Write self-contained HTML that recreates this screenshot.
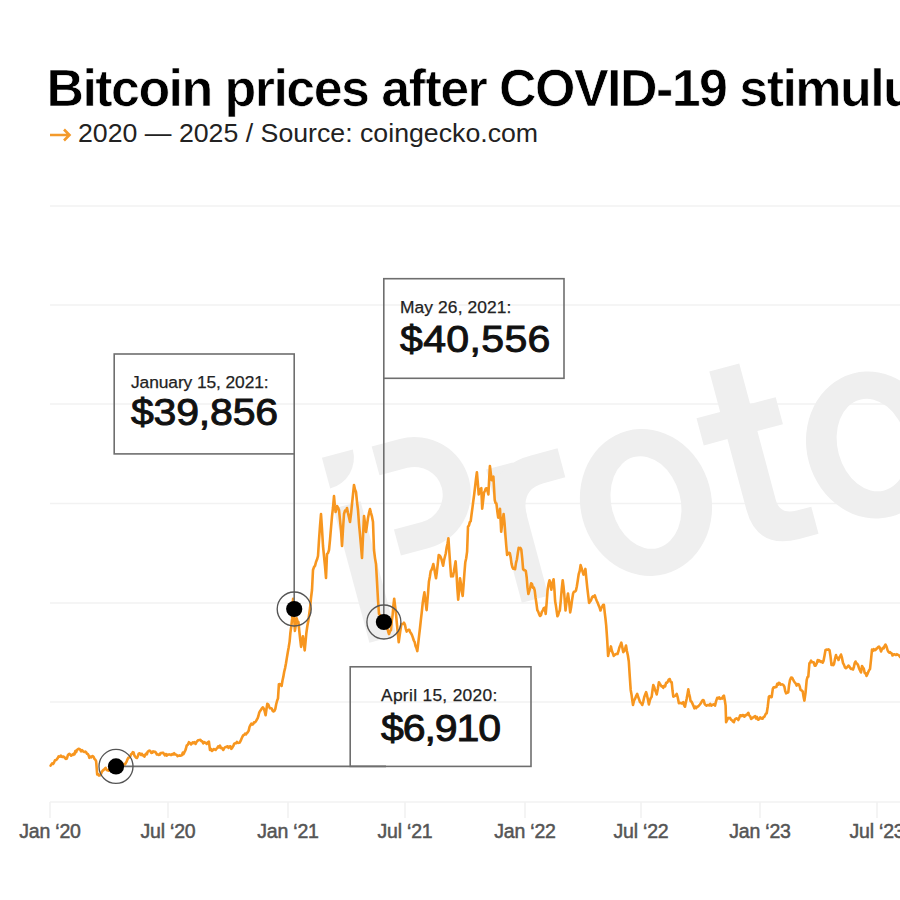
<!DOCTYPE html>
<html><head><meta charset="utf-8">
<style>
html,body{margin:0;padding:0;background:#fff;}
body{width:900px;height:900px;position:relative;overflow:hidden;font-family:"Liberation Sans",sans-serif;}
.t{position:absolute;white-space:nowrap;line-height:1;}
#title{left:46.4px;top:61.8px;font-size:52px;font-weight:bold;color:#000;-webkit-text-stroke:0.7px #fff;letter-spacing:-1.56px;}
#sub{transform-origin:0 0;transform:scaleX(1.047);left:77.5px;top:121px;font-size:25.5px;color:#222;letter-spacing:0px;}
#sub .ar{color:#f39a2b;}
.box{position:absolute;border:1.5px solid #666;box-sizing:border-box;}
.bd{position:absolute;-webkit-text-stroke:0.25px #222;font-size:17.4px;line-height:1;color:#222;white-space:nowrap;letter-spacing:-0.1px;}
.bv{position:absolute;-webkit-text-stroke:0.95px #111;transform-origin:0 0;transform:scaleX(1.095);font-size:37.5px;line-height:1;color:#111;white-space:nowrap;letter-spacing:0px;}
.ax{position:absolute;top:822px;font-size:19.5px;line-height:1;color:#555;-webkit-text-stroke:0.5px #555;white-space:nowrap;transform:translateX(-50%);letter-spacing:-0.2px;}
</style></head><body>
<svg width="900" height="900" style="position:absolute;left:0;top:0">
  <g stroke="#f2f2f2" stroke-width="1.5">
    <line x1="50" y1="206" x2="900" y2="206"/>
    <line x1="50" y1="305" x2="900" y2="305"/>
    <line x1="50" y1="404" x2="900" y2="404"/>
    <line x1="50" y1="503.5" x2="900" y2="503.5"/>
    <line x1="50" y1="603" x2="900" y2="603"/>
    <line x1="50" y1="702" x2="900" y2="702"/>
    <line x1="50" y1="802" x2="900" y2="802"/>
  </g>
  <g stroke="#f0f0f0" stroke-width="1.5">
    <line x1="50" y1="802" x2="50" y2="818"/>
    <line x1="168" y1="802" x2="168" y2="818"/>
    <line x1="288" y1="802" x2="288" y2="818"/>
    <line x1="405" y1="802" x2="405" y2="818"/>
    <line x1="525" y1="802" x2="525" y2="818"/>
    <line x1="641" y1="802" x2="641" y2="818"/>
    <line x1="760" y1="802" x2="760" y2="818"/>
    <line x1="877" y1="802" x2="877" y2="818"/>
  </g>
  <g transform="translate(655,503) rotate(-15)" fill="#efefef">
    <path d="M-310,-130 L-278,-130 A32,32 0 0 1 -310,-98 Z"/>
    <rect x="-312" y="-78" width="28" height="139"/>
    <path d="M-259,-128 L-230,-128 A56.5,56.5 0 0 1 -230,-15 L-259,-15 L-259,-42 L-230,-42 A28,28 0 0 0 -230,-98 L-259,-98 Z"/>
    <rect x="-154.5" y="-76" width="27.5" height="138"/>
    <path d="M-154.5,-45 Q-147.5,-78 -107.5,-78 L-80,-78 L-80,-48 L-102.5,-48 Q-127,-48 -127,-20 Z"/>
    <path fill-rule="evenodd" d="M56.9,-2.8 A65.5,74 0 1 0 -74.1,-2.8 A65.5,74 0 1 0 56.9,-2.8 Z M25.9,-2.8 A34.5,47 0 1 0 -43.1,-2.8 A34.5,47 0 1 0 25.9,-2.8 Z"/>
    <path d="M86.5,-113 L117.5,-113 L117.5,-71 L144,-71 L144,-43 L117.5,-43 L117.5,28 Q117.5,44 135,44 L150,44 L150,72 L130,72 Q86.5,72 86.5,30 L86.5,-43 L62,-43 L62,-71 L86.5,-71 Z"/>
    <path fill-rule="evenodd" d="M290.2,0.2 A65.5,74 0 1 0 159.2,0.2 A65.5,74 0 1 0 290.2,0.2 Z M259.2,0.2 A34.5,47 0 1 0 190.2,0.2 A34.5,47 0 1 0 259.2,0.2 Z"/>
  </g>
  <g stroke="#f39a2b" stroke-width="2.6" fill="none" stroke-linecap="butt" stroke-linejoin="miter"><path d="M50,135 L69,135 M64,129.5 L69.5,135 L64,140.5"/></g>
  <path d="M50.6,765.6 L51.4,764.4 L52.2,763.3 L53.1,763.9 L53.9,762.8 L55.0,760.3 L56.1,760.0 L56.9,759.3 L57.8,758.0 L58.6,756.4 L59.4,756.7 L60.2,756.7 L60.9,755.5 L61.7,756.7 L62.6,757.0 L63.5,756.5 L64.3,757.0 L65.2,758.3 L66.1,758.9 L66.9,758.5 L67.8,755.4 L68.6,754.4 L69.4,753.9 L70.2,754.5 L71.1,755.6 L72.0,754.9 L72.8,755.0 L73.6,753.8 L74.5,754.4 L75.3,751.0 L76.1,752.2 L77.0,749.8 L77.8,749.4 L78.6,748.8 L79.5,749.0 L80.3,749.8 L81.1,751.4 L82.0,750.0 L82.8,751.1 L83.6,751.6 L84.4,752.0 L85.3,751.6 L86.1,752.2 L86.9,753.7 L87.8,753.9 L88.6,755.3 L89.4,757.8 L90.2,756.6 L91.1,757.4 L92.0,756.3 L92.8,756.1 L93.6,756.9 L94.4,758.8 L95.3,759.7 L96.1,761.1 L97.2,774.4 L98.0,774.0 L98.9,775.5 L99.8,775.4 L100.6,775.0 L101.7,772.1 L102.8,770.6 L103.7,769.9 L104.7,768.8 L105.6,767.8 L106.5,769.7 L107.4,770.3 L108.3,770.6 L109.2,769.4 L110.2,770.5 L111.1,767.7 L112.0,768.0 L113.0,767.3 L114.0,767.7 L115.0,765.6 L116.0,766.0 L117.0,765.7 L118.0,764.3 L119.0,765.7 L120.0,765.0 L120.8,765.6 L121.7,765.0 L122.5,765.7 L123.3,764.1 L124.2,765.0 L125.0,764.4 L125.8,763.0 L126.7,761.3 L127.5,759.3 L128.3,757.8 L129.2,757.6 L130.1,756.7 L131.0,754.4 L131.9,753.7 L132.8,752.2 L133.6,752.5 L134.4,755.5 L135.3,756.8 L136.1,757.8 L136.9,758.0 L137.8,756.4 L138.6,753.9 L139.4,753.3 L140.2,753.6 L141.1,754.9 L141.9,753.8 L142.7,755.5 L143.6,755.3 L144.4,756.7 L145.2,754.7 L146.1,753.5 L146.9,754.3 L147.7,751.7 L148.6,751.0 L149.4,750.6 L150.3,751.0 L151.3,753.0 L152.2,752.8 L153.1,751.3 L154.1,751.9 L155.0,751.7 L155.9,752.7 L156.9,754.5 L157.8,754.4 L158.7,755.0 L159.6,754.8 L160.6,753.0 L161.5,753.1 L162.4,752.7 L163.3,752.8 L164.2,754.5 L165.0,755.4 L165.8,754.0 L166.7,755.6 L167.6,754.6 L168.6,754.6 L169.5,754.4 L170.5,754.9 L171.4,755.0 L172.4,754.0 L173.3,754.4 L174.2,753.2 L175.0,754.5 L175.9,754.5 L176.8,755.1 L177.6,756.2 L178.5,755.7 L179.4,755.4 L180.2,755.8 L181.1,755.6 L181.9,755.2 L182.8,752.7 L183.6,754.1 L184.4,752.2 L185.2,750.7 L185.9,748.8 L186.7,745.6 L187.8,744.7 L188.9,742.2 L190.0,743.0 L191.1,744.4 L191.9,743.6 L192.8,742.3 L193.6,743.1 L194.4,742.2 L195.6,743.9 L196.6,741.8 L197.5,740.8 L198.4,740.2 L199.4,740.0 L200.4,739.9 L201.4,741.2 L202.3,741.3 L203.3,743.3 L204.2,742.2 L205.0,742.7 L205.8,742.7 L206.7,743.9 L207.8,742.4 L208.9,741.7 L210.0,750.0 L210.9,748.8 L211.9,751.0 L212.8,750.3 L213.7,749.1 L214.7,749.4 L215.6,750.0 L216.5,748.7 L217.4,747.9 L218.2,746.4 L219.1,747.4 L220.0,745.6 L220.8,748.0 L221.7,747.7 L222.5,748.9 L223.3,750.0 L224.2,748.1 L225.0,747.3 L225.8,747.1 L226.7,746.7 L227.6,746.3 L228.5,747.9 L229.4,746.4 L230.4,746.2 L231.3,748.8 L232.2,747.8 L233.1,746.4 L234.1,743.9 L235.0,743.3 L236.0,743.3 L236.9,741.8 L237.9,743.0 L238.9,742.8 L239.8,742.5 L240.7,740.7 L241.5,738.7 L242.4,736.7 L243.3,735.3 L244.2,734.9 L245.1,733.6 L246.0,734.4 L246.9,733.0 L247.8,732.2 L248.7,730.6 L249.5,727.0 L250.4,725.1 L251.3,723.7 L252.2,724.6 L253.1,724.3 L254.0,722.4 L254.9,722.5 L255.8,721.5 L256.7,719.8 L257.6,718.4 L258.4,716.0 L259.3,712.4 L260.2,710.9 L261.1,709.7 L262.0,708.1 L262.9,707.3 L263.8,708.7 L264.7,711.4 L265.6,715.3 L266.5,709.0 L267.3,703.8 L268.2,704.3 L269.1,706.5 L270.0,708.3 L270.9,708.2 L271.8,708.7 L272.6,710.7 L273.5,711.5 L274.4,710.9 L275.3,709.0 L276.2,704.3 L277.1,700.8 L278.0,698.4 L278.9,684.2 L279.8,684.1 L280.7,684.6 L281.6,686.0 L282.5,680.5 L283.3,676.9 L284.2,671.8 L285.1,668.1 L286.0,663.2 L286.9,657.6 L287.8,652.2 L288.7,647.3 L289.6,641.6 L290.4,632.7 L291.3,626.3 L292.2,618.4 L293.1,598.9 L294.0,613.8 L294.9,630.9 L295.8,625.1 L296.7,618.4 L297.5,621.3 L298.4,622.0 L299.3,631.0 L300.2,639.3 L301.1,646.9 L302.0,641.5 L302.9,636.2 L303.8,642.5 L304.7,650.4 L305.5,642.3 L306.4,632.7 L307.3,626.3 L308.2,621.6 L309.1,614.9 L310.1,607.8 L311.0,598.0 L312.0,590.0 L313.0,570.0 L314.0,567.1 L315.0,565.8 L316.0,562.0 L317.0,559.6 L318.0,556.0 L319.0,540.0 L320.0,526.1 L321.0,514.0 L322.0,529.0 L323.0,546.0 L324.0,556.0 L325.0,566.1 L326.0,578.0 L327.0,554.0 L328.0,553.1 L329.0,550.0 L330.0,539.8 L331.0,528.0 L332.0,516.4 L333.0,507.5 L334.0,496.0 L334.8,505.2 L335.6,512.0 L336.3,509.4 L337.0,506.0 L338.0,507.6 L339.0,510.0 L340.0,520.1 L341.0,530.0 L342.0,546.0 L343.0,529.0 L344.0,514.0 L345.0,510.7 L346.0,511.2 L347.0,508.0 L348.0,513.1 L349.0,517.4 L350.0,522.0 L351.0,514.1 L352.0,504.0 L353.0,494.3 L354.0,485.0 L355.0,489.5 L356.0,492.0 L357.0,501.8 L358.0,510.0 L359.0,524.0 L360.0,534.6 L361.0,546.0 L362.0,558.0 L363.0,536.5 L364.0,516.0 L365.0,523.3 L366.0,532.0 L367.0,525.2 L368.0,518.0 L369.0,512.9 L370.0,509.0 L371.0,513.1 L372.0,516.7 L373.0,522.0 L374.0,550.0 L375.0,558.1 L376.0,564.0 L377.0,581.6 L378.0,600.0 L379.0,614.0 L379.8,614.9 L380.7,616.2 L381.5,618.1 L382.3,617.8 L383.2,620.1 L384.0,620.0 L384.8,622.3 L385.7,624.7 L386.5,627.1 L387.3,628.1 L388.2,631.5 L389.0,634.0 L390.0,631.2 L391.0,630.0 L391.8,620.9 L392.6,615.1 L393.4,605.7 L394.2,598.7 L395.1,606.2 L396.0,613.8 L396.9,623.9 L397.8,632.9 L398.7,642.2 L399.6,635.8 L400.4,630.4 L401.3,624.4 L402.2,624.0 L403.1,624.0 L404.0,622.7 L404.9,624.6 L405.8,628.8 L406.7,631.6 L407.6,630.3 L408.4,629.8 L409.3,629.8 L410.2,632.3 L411.1,633.4 L412.0,635.1 L412.9,637.6 L413.8,640.5 L414.7,642.2 L415.6,646.2 L416.4,648.0 L417.3,651.1 L418.2,643.7 L419.1,635.7 L420.0,628.0 L420.9,619.7 L421.8,611.9 L422.7,603.1 L423.5,597.6 L424.4,592.4 L425.5,601.4 L426.6,610.2 L427.4,600.7 L428.1,592.4 L428.9,581.8 L429.8,577.0 L430.7,571.1 L431.6,569.7 L432.4,567.5 L433.3,564.0 L434.2,568.1 L435.1,573.6 L436.0,578.2 L436.9,571.7 L437.8,563.7 L438.7,555.1 L439.6,555.4 L440.4,556.5 L441.3,558.7 L442.2,562.1 L443.1,565.8 L444.0,560.5 L444.9,556.8 L445.8,553.3 L446.7,547.2 L447.5,543.7 L448.4,538.2 L449.3,551.7 L450.2,564.7 L451.1,576.4 L452.0,575.5 L452.9,576.4 L453.8,571.9 L454.7,566.8 L455.6,561.3 L456.5,573.1 L457.3,587.8 L458.2,599.6 L459.1,590.1 L460.0,578.2 L460.9,583.4 L461.8,591.2 L462.7,596.0 L463.6,584.5 L464.4,573.4 L465.3,562.2 L466.2,558.2 L467.1,551.6 L468.0,526.7 L468.9,525.7 L469.8,522.1 L470.7,521.1 L471.6,514.0 L472.5,507.3 L473.3,501.0 L474.2,494.4 L475.1,486.6 L476.0,478.8 L476.9,472.2 L477.8,482.8 L478.7,494.4 L479.6,492.9 L480.4,489.0 L481.3,488.2 L482.2,508.7 L483.1,500.8 L484.0,492.7 L484.9,491.0 L485.8,488.4 L486.7,488.2 L487.5,490.9 L488.4,494.4 L489.1,480.5 L489.9,466.0 L490.8,473.1 L491.6,480.2 L492.5,477.3 L493.4,476.7 L494.7,499.8 L495.5,502.8 L496.4,503.3 L497.3,511.2 L498.2,517.6 L499.1,514.4 L500.0,508.7 L501.2,531.8 L502.0,524.8 L502.8,519.3 L503.6,514.0 L504.5,522.6 L505.3,533.6 L506.2,545.0 L507.1,554.9 L508.0,553.7 L508.9,552.7 L509.8,553.1 L510.7,557.6 L511.5,563.6 L512.4,567.3 L513.3,568.7 L514.2,567.9 L515.1,569.1 L516.0,562.9 L516.9,559.5 L517.8,553.3 L518.7,547.8 L519.6,548.9 L520.4,547.9 L521.3,549.6 L522.2,558.2 L523.1,569.1 L524.0,570.2 L524.9,570.1 L525.8,570.9 L526.7,577.5 L527.5,587.4 L528.4,594.0 L529.3,590.8 L530.2,587.7 L531.1,583.3 L532.0,584.0 L532.9,587.8 L533.8,587.5 L534.7,590.4 L535.6,597.9 L536.4,603.3 L537.3,610.0 L538.2,611.6 L539.1,614.1 L540.0,616.0 L540.9,615.3 L541.9,611.7 L542.8,610.5 L543.8,608.1 L544.7,607.7 L545.7,614.0 L546.7,602.1 L547.6,590.0 L548.5,584.4 L549.5,580.2 L550.4,583.9 L551.3,589.7 L552.1,585.4 L552.8,581.6 L553.6,579.3 L554.4,589.4 L555.1,601.0 L555.9,605.6 L556.6,610.6 L557.4,616.2 L558.2,615.0 L559.0,611.9 L559.8,610.5 L560.8,600.4 L561.7,589.5 L562.7,580.2 L563.5,586.5 L564.2,593.5 L565.5,610.5 L566.3,603.6 L567.2,598.5 L568.0,593.5 L569.1,601.7 L570.2,612.4 L571.2,606.7 L572.1,599.9 L573.1,593.5 L574.0,591.7 L575.0,591.5 L575.9,590.6 L576.8,586.5 L577.8,580.2 L578.7,574.1 L579.7,571.0 L580.6,565.1 L581.6,568.1 L582.5,571.4 L583.5,574.6 L584.5,572.6 L585.4,568.9 L586.3,578.1 L587.3,587.8 L588.2,595.4 L589.1,602.9 L590.1,601.5 L591.0,600.4 L592.0,597.3 L592.9,596.3 L593.9,596.9 L594.8,595.4 L595.8,598.4 L596.7,600.8 L597.7,602.9 L598.6,605.2 L599.6,607.6 L600.5,610.5 L601.4,607.9 L602.2,606.7 L603.0,605.1 L603.9,604.8 L604.7,612.4 L605.4,618.0 L606.2,625.6 L607.2,639.9 L608.1,655.9 L609.0,651.7 L610.0,650.5 L610.9,646.4 L611.8,650.5 L612.8,653.2 L613.7,655.9 L614.7,654.9 L615.6,654.3 L616.5,653.9 L617.5,654.0 L618.5,651.0 L619.4,647.4 L620.3,645.3 L621.3,642.6 L622.2,646.7 L623.2,652.1 L624.1,651.1 L625.1,648.9 L626.0,645.5 L626.9,651.0 L627.9,655.5 L628.8,661.5 L629.8,676.9 L630.7,689.9 L631.5,694.4 L632.2,699.6 L633.0,705.0 L634.0,700.7 L635.0,698.9 L636.1,696.1 L637.2,693.9 L638.1,696.6 L639.1,699.4 L640.0,702.2 L641.1,702.8 L642.2,705.0 L643.2,701.8 L644.2,697.3 L645.1,694.8 L646.1,692.2 L647.0,695.2 L648.0,700.1 L648.9,704.4 L649.8,700.6 L650.8,698.0 L651.7,696.7 L652.5,690.3 L653.3,685.0 L654.1,686.7 L655.0,689.9 L655.9,692.1 L656.7,694.4 L657.8,689.0 L658.9,682.2 L659.8,683.7 L660.7,685.0 L661.5,686.5 L662.4,686.4 L663.3,687.8 L664.2,685.9 L665.2,686.3 L666.1,682.7 L667.0,682.8 L668.0,681.2 L668.9,679.4 L669.8,679.1 L670.8,682.1 L671.7,682.2 L672.5,690.5 L673.3,696.7 L674.1,696.3 L675.0,695.9 L675.9,695.4 L676.7,693.9 L677.8,697.7 L678.9,703.3 L679.8,703.1 L680.7,702.9 L681.5,703.5 L682.4,703.2 L683.3,702.2 L684.1,705.3 L685.0,706.7 L685.8,702.6 L686.6,699.1 L687.5,694.2 L688.3,689.4 L689.1,693.8 L689.8,696.5 L690.6,701.1 L691.5,701.7 L692.5,703.7 L693.5,706.1 L694.4,708.3 L695.3,706.7 L696.2,708.1 L697.1,706.8 L698.0,706.5 L698.9,705.6 L699.9,704.5 L700.8,703.3 L701.8,701.4 L702.8,700.0 L703.7,700.4 L704.7,704.1 L705.6,705.0 L706.5,705.6 L707.5,705.0 L708.4,705.1 L709.4,705.4 L710.3,703.9 L711.3,705.6 L712.2,705.0 L713.1,704.6 L714.1,704.3 L715.0,705.6 L716.1,701.1 L717.2,697.8 L718.2,698.5 L719.2,697.3 L720.1,698.8 L721.1,698.3 L722.0,698.6 L723.0,696.5 L723.9,695.6 L724.8,700.3 L725.6,705.6 L726.1,722.2 L727.2,719.9 L728.3,717.8 L729.1,718.3 L730.0,717.8 L731.0,719.6 L732.0,720.3 L732.9,721.5 L733.9,722.2 L734.8,719.5 L735.6,718.9 L736.5,718.3 L737.4,719.0 L738.3,720.0 L739.1,718.4 L740.0,715.6 L740.9,715.3 L741.8,716.2 L742.6,715.0 L743.5,715.3 L744.4,716.7 L745.4,715.1 L746.3,715.2 L747.3,714.3 L748.3,712.8 L749.2,715.3 L750.2,716.3 L751.1,718.9 L751.9,718.4 L752.8,717.7 L753.6,717.2 L754.4,716.7 L755.2,716.1 L756.1,718.5 L756.9,717.0 L757.7,719.4 L758.6,719.7 L759.4,718.9 L760.2,717.3 L761.1,718.1 L761.9,718.6 L762.7,718.7 L763.6,716.9 L764.4,716.7 L765.2,715.0 L765.9,713.7 L766.7,713.3 L767.8,706.2 L768.9,696.7 L769.8,696.1 L770.8,697.2 L771.7,697.2 L772.8,688.9 L773.7,687.2 L774.7,687.5 L775.6,686.7 L776.4,686.9 L777.2,683.8 L778.1,684.6 L778.9,682.8 L779.7,683.2 L780.5,684.6 L781.4,684.5 L782.2,684.4 L783.3,684.9 L784.4,686.7 L785.2,691.0 L786.1,693.3 L787.2,692.7 L788.3,692.2 L789.1,684.9 L790.0,680.0 L791.1,677.6 L792.2,677.8 L793.0,679.4 L793.9,681.1 L794.8,682.5 L795.8,683.6 L796.7,685.6 L797.8,684.1 L798.9,684.4 L799.8,686.8 L800.6,690.0 L801.7,690.4 L802.8,691.7 L803.6,697.0 L804.4,700.6 L805.6,692.2 L806.7,680.0 L807.5,677.1 L808.3,676.7 L809.4,663.3 L810.2,662.6 L811.1,660.6 L812.0,662.3 L812.8,662.2 L813.7,662.3 L814.7,665.6 L815.6,665.6 L816.7,663.4 L817.8,660.0 L818.6,661.5 L819.4,660.5 L820.2,661.2 L821.0,662.0 L821.8,661.4 L822.7,662.6 L823.5,661.0 L824.5,655.7 L825.5,650.0 L826.5,649.6 L827.5,649.8 L828.5,649.4 L829.5,650.0 L830.5,656.3 L831.5,665.0 L832.3,663.6 L833.2,665.2 L834.0,664.0 L835.0,658.9 L836.0,655.0 L836.8,657.8 L837.7,657.7 L838.5,660.0 L839.3,657.6 L840.2,656.4 L841.0,654.5 L842.0,657.9 L843.0,663.0 L844.0,664.9 L845.0,667.5 L845.9,668.2 L846.8,667.5 L847.6,666.8 L848.5,665.5 L849.4,666.6 L850.3,668.2 L851.2,669.0 L852.1,668.8 L853.0,669.5 L853.8,667.4 L854.7,663.0 L855.5,661.5 L856.3,663.3 L857.2,663.7 L858.0,665.0 L859.0,668.2 L860.0,670.4 L861.0,672.5 L862.0,666.0 L862.9,667.4 L863.8,668.8 L864.7,673.1 L865.6,673.0 L866.5,676.0 L867.4,674.2 L868.2,672.1 L869.1,670.2 L870.0,669.0 L871.0,659.9 L872.0,649.5 L872.9,650.9 L873.8,649.1 L874.6,650.3 L875.5,650.0 L876.4,648.6 L877.2,648.4 L878.1,647.1 L879.0,646.5 L880.0,648.1 L881.0,651.5 L881.9,649.2 L882.8,647.9 L883.7,648.4 L884.6,645.9 L885.5,644.5 L886.5,646.5 L887.5,650.0 L888.3,651.7 L889.2,652.6 L890.0,652.0 L890.8,653.0 L891.7,653.4 L892.5,655.5 L893.4,654.6 L894.2,654.2 L895.1,654.7 L896.0,655.0 L896.9,654.2 L897.7,654.8 L898.6,655.0 L899.4,656.0 L900.3,657.1 L901.1,656.9 L902.0,656.5" fill="none" stroke="#f7961f" stroke-width="2.6" stroke-linejoin="round" stroke-linecap="round"/>
  <g stroke="#6e6e6e" stroke-width="1.6" fill="none">
    <rect x="114.2" y="354" width="180" height="99.9"/>
    <rect x="383.8" y="278.7" width="180.2" height="99.6"/>
    <rect x="350.2" y="666.8" width="180.8" height="99.6"/>
    <line x1="116" y1="766.4" x2="386" y2="766.4"/>
    <line x1="294.2" y1="453.9" x2="294.2" y2="608.7"/>
    <line x1="383.8" y1="378.3" x2="383.8" y2="622"/>
  </g>
  <g fill="none" stroke="#555" stroke-width="1.35">
    <circle cx="116" cy="766.4" r="17"/>
    <circle cx="294.2" cy="609" r="17"/>
    <circle cx="383.9" cy="622" r="17"/>
  </g>
  <g fill="#000">
    <circle cx="116" cy="766.4" r="8.1"/>
    <circle cx="294.2" cy="609" r="8.1"/>
    <circle cx="383.9" cy="622" r="8.1"/>
  </g>
</svg>
<div class="t" id="title">Bitcoin prices after COVID-19 stimulus</div>
<div class="t" id="sub">2020 &#8212; 2025 / Source: coingecko.com</div>

<div class="bd" id="bd1" style="left:131px;top:373.5px">January 15, 2021:</div>
<div class="bv" id="bv1" style="left:131px;top:393.5px;letter-spacing:-0.2px">$39,856</div>

<div class="bd" id="bd2" style="left:400px;top:298.5px;letter-spacing:0.1px">May 26, 2021:</div>
<div class="bv" id="bv2" style="left:400px;top:320.5px;letter-spacing:0.3px">$40,556</div>

<div class="bd" id="bd3" style="left:381px;top:687px;letter-spacing:0.3px">April 15, 2020:</div>
<div class="bv" id="bv3" style="left:381px;top:709.5px;letter-spacing:-1px">$6,910</div>

<div class="ax" style="left:50px">Jan &#8216;20</div>
<div class="ax" style="left:168px">Jul &#8216;20</div>
<div class="ax" style="left:288px">Jan &#8216;21</div>
<div class="ax" style="left:405px">Jul &#8216;21</div>
<div class="ax" style="left:525px">Jan &#8216;22</div>
<div class="ax" style="left:641px">Jul &#8216;22</div>
<div class="ax" style="left:760px">Jan &#8216;23</div>
<div class="ax" style="left:877px">Jul &#8216;23</div>
</body></html>
